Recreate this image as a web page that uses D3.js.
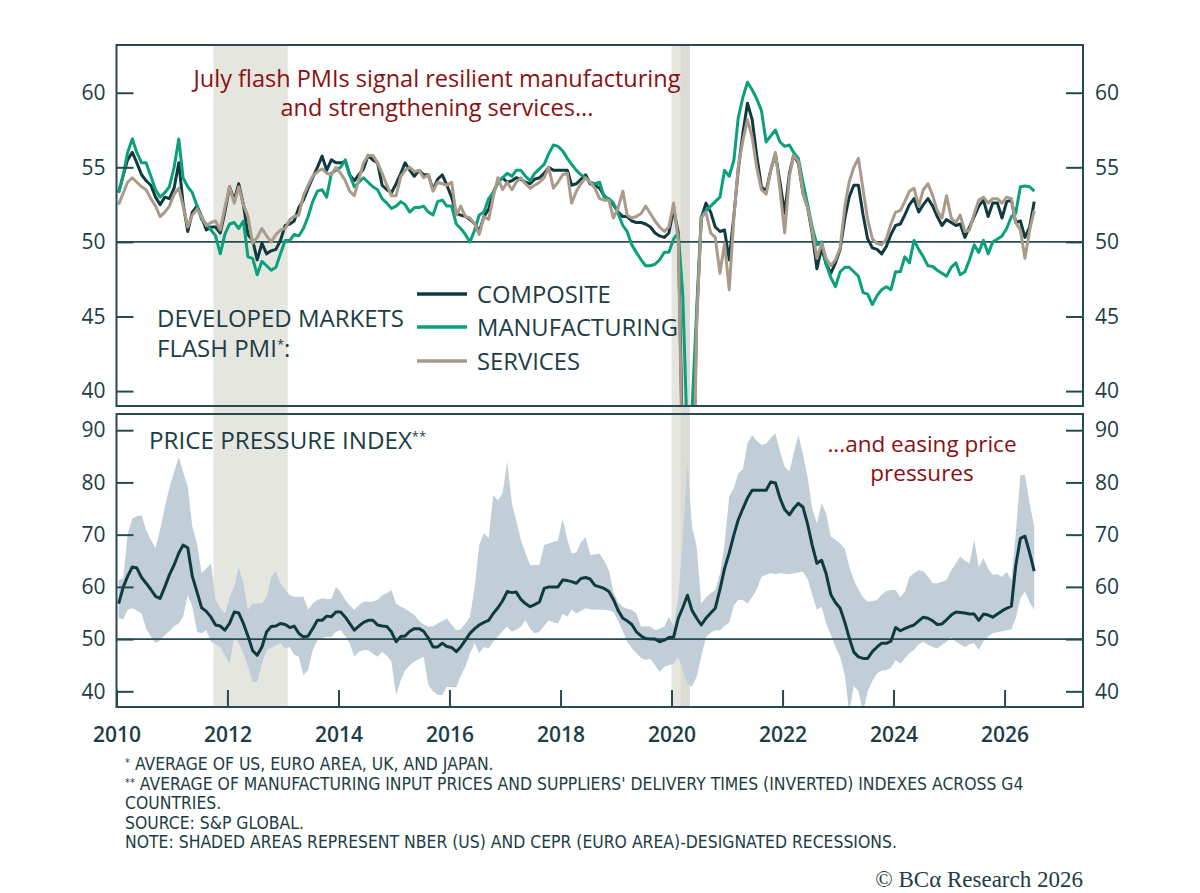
<!DOCTYPE html>
<html><head><meta charset="utf-8">
<script src="https://cdn.jsdelivr.net/npm/d3@7/dist/d3.min.js"></script>
<style>
body{margin:0;background:#fff;}
svg{display:block;}
</style></head><body>
<svg id="chart" width="1200" height="893"></svg>
<script>
// ---- DATA (monthly, Jan 2010 .. Jul 2026) ----
const firstMonth = [2010, 0];

const composite = [
53.3,54.5,55.5,56.0,55.3,54.5,54.1,53.8,53.0,52.5,53.0,52.9,
53.6,55.3,52.6,50.7,52.0,52.4,51.7,50.8,51.0,51.0,50.6,52.0,
53.7,52.8,53.9,52.5,50.5,50.1,48.8,49.9,49.2,49.4,49.5,50.1,
51.1,51.2,51.4,52.3,52.8,53.6,54.3,55.0,55.75,54.8,55.5,55.3,
55.3,55.4,54.5,54.1,54.5,54.9,55.8,55.5,55.3,53.8,53.5,53.3,
53.9,54.6,55.3,54.8,54.4,54.8,54.5,54.5,53.5,54.2,54.5,53.8,
53.0,51.9,51.8,51.7,51.5,51.2,50.7,51.7,52.2,53.3,54.0,54.3,
54.0,54.1,54.3,54.2,54.0,53.9,54.2,54.3,54.6,55.0,54.8,54.8,
54.8,54.8,53.8,53.9,54.2,54.5,53.9,53.8,53.6,53.1,52.8,52.5,
52.0,51.7,51.7,51.4,51.3,51.3,51.2,51.0,50.6,50.4,50.3,50.6,
52.2,50.6,35.2,20.4,30.8,45.0,51.6,52.6,52.0,51.0,50.7,50.8,
48.8,51.8,54.8,57.3,59.3,58.2,55.8,53.7,53.4,54.8,55.9,54.0,
51.9,54.6,55.8,55.3,53.3,52.3,50.6,48.2,49.6,48.5,47.9,48.6,
49.5,51.6,53.0,53.8,53.8,51.8,50.2,49.6,49.5,49.2,49.7,50.5,
51.1,51.2,51.8,52.5,52.9,52.0,52.5,52.9,52.4,51.7,51.1,51.5,
51.3,51.1,51.2,50.3,51.0,51.7,52.4,52.8,51.7,52.6,52.6,51.6,
52.7,52.8,51.3,51.4,50.3,51.0,52.7];

const manufacturing = [
53.3,54.5,56.0,56.9,56.0,55.3,55.3,54.4,53.5,53.0,53.3,53.7,
55.0,56.9,54.3,53.7,53.3,52.4,51.5,51.2,50.8,50.4,49.2,50.5,
51.2,51.3,50.9,51.4,49.0,48.9,47.8,48.7,48.4,48.1,48.3,49.2,
50.1,50.1,50.5,50.4,50.9,51.7,52.7,53.4,53.5,53.0,54.6,54.8,
55.0,55.5,54.5,53.7,54.0,54.3,54.0,53.7,53.5,52.9,52.6,52.25,
52.4,52.7,52.5,52.0,52.3,52.3,52.4,52.0,51.8,52.7,52.8,52.4,
52.4,51.2,50.9,50.5,50.0,50.8,51.8,52.0,52.9,53.3,54.0,54.3,
54.6,54.4,54.8,54.8,54.4,54.1,54.6,54.9,55.2,55.9,56.5,56.4,
56.1,55.6,55.2,54.8,54.5,54.3,54.0,53.9,54.0,53.0,52.9,52.6,
51.9,51.1,50.7,49.8,49.3,48.8,48.4,48.4,48.5,48.8,49.3,49.3,
50.2,50.6,46.5,36.5,38.7,45.5,51.7,52.1,52.4,52.7,53.0,54.8,
54.4,55.5,58.3,59.7,60.7,60.2,59.6,58.8,56.7,57.1,57.5,56.7,
56.4,56.5,56.0,55.6,54.0,52.5,51.0,49.8,50.0,48.5,47.6,47.0,
48.0,48.3,48.3,48.0,47.7,46.6,46.5,45.8,46.4,46.8,47.0,46.8,
48.0,48.0,49.0,48.6,50.1,49.5,49.0,48.4,48.35,48.1,47.9,47.7,
48.3,48.6,47.8,48.0,48.8,49.8,49.3,50.1,49.2,50.0,50.2,50.4,
50.9,51.7,51.9,53.7,53.75,53.7,53.4];

const services = [
52.5,53.3,54.0,54.3,54.0,53.7,53.5,52.9,52.4,51.7,52.0,52.4,
53.2,53.6,52.4,51.0,51.8,52.2,51.7,51.1,51.3,51.4,50.8,52.3,
53.7,52.6,53.7,52.5,51.7,49.9,50.3,50.9,50.4,50.0,50.5,50.8,
50.9,51.5,51.7,51.8,53.1,53.8,54.4,54.7,54.9,54.6,54.5,55.0,
54.6,54.1,53.4,53.1,54.2,55.3,55.8,55.8,55.3,54.6,53.8,53.1,
53.1,54.4,54.8,55.0,54.7,54.8,54.3,54.5,53.4,54.0,53.9,53.8,
54.0,51.8,52.4,51.7,51.6,51.2,50.5,51.7,51.5,53.0,54.3,53.5,
54.0,53.5,54.0,54.3,53.9,53.6,53.8,54.0,54.3,55.0,53.6,54.0,
54.5,54.6,52.6,53.4,53.9,54.3,54.0,53.6,52.9,52.8,52.8,51.6,
52.3,53.4,51.8,51.6,51.7,51.9,52.4,51.9,51.4,51.0,50.7,51.0,
52.6,50.1,33.5,16.5,27.5,44.5,51.6,52.0,50.6,50.3,47.9,49.9,
46.8,51.7,55.0,56.8,58.2,57.0,55.0,53.5,53.2,54.8,56.0,53.5,
50.6,54.4,55.8,55.4,53.3,52.3,50.8,48.9,49.9,48.9,48.4,48.8,
49.6,52.4,54.0,55.0,55.6,53.5,51.5,50.2,49.9,49.8,50.2,51.2,
52.0,52.1,52.7,53.4,53.6,52.4,53.5,53.9,53.1,52.1,51.6,53.1,
51.6,51.3,51.8,50.7,50.8,51.9,52.8,53.0,52.6,52.9,52.9,52.6,
53.0,52.9,51.3,50.8,48.9,50.8,52.1];

const pricePressure = [
56.8,60.0,62.0,63.8,63.6,61.8,60.7,59.5,58.2,57.8,60.0,62.3,
64.2,66.5,68.0,67.5,62.0,59.0,56.0,55.3,54.2,52.7,52.5,51.7,
53.0,55.2,55.0,53.0,50.6,47.8,46.9,48.5,51.4,52.4,52.5,53.0,
52.8,52.2,52.5,51.1,50.4,50.6,52.0,53.6,53.6,54.4,54.3,55.2,
55.2,54.2,53.0,51.7,52.5,53.2,53.6,53.6,52.7,52.5,52.4,51.4,
49.5,50.5,50.6,51.5,52.0,52.0,51.5,50.2,48.5,48.5,49.2,48.6,
48.4,47.6,48.5,49.8,51.1,52.0,52.7,53.2,53.6,54.9,56.0,57.3,
59.1,58.9,59.0,57.6,56.8,56.2,56.6,57.1,59.7,60.0,60.0,60.0,
61.3,61.2,61.0,60.7,61.6,61.8,61.5,60.3,60.0,59.7,59.1,57.6,
55.5,54.0,53.5,52.8,51.4,50.6,50.1,50.0,50.0,49.5,49.8,50.3,
50.4,54.0,56.0,58.4,55.5,54.0,52.7,54.0,55.0,55.9,59.5,63.5,
66.5,70.0,72.8,75.0,77.0,78.5,78.5,78.5,78.5,80.1,79.9,77.0,
74.8,73.8,75.0,76.0,75.3,72.0,68.0,64.5,65.1,62.5,58.5,57.0,
55.9,53.2,50.3,47.5,46.6,46.3,46.3,47.6,48.5,49.2,49.2,49.6,
52.2,51.6,52.0,52.4,52.7,53.5,54.2,54.0,53.5,52.8,52.9,53.7,
54.6,55.2,55.1,55.0,54.8,54.8,53.6,54.8,54.6,54.2,54.8,55.4,
55.9,56.3,64.0,69.3,69.7,66.5,63.0];

const rangeHigh = [
61.3,61.7,70.0,73.1,73.5,73.7,70.9,69.0,67.4,71.0,75.3,79.0,
82.0,84.9,82.0,79.2,71.5,68.3,62.6,63.5,64.5,57.5,56.0,54.9,
58.0,60.0,63.8,60.7,55.6,56.8,56.8,56.8,58.1,61.9,63.0,60.7,
59.5,58.4,58.1,58.1,58.1,55.6,56.8,57.5,57.8,57.7,57.7,60.0,
59.0,57.5,56.5,55.6,56.5,57.15,57.15,57.2,57.5,58.4,58.8,59.4,
56.8,56.2,55.8,55.2,54.6,53.5,52.8,52.4,52.4,53.0,53.4,54.0,
52.8,51.7,51.9,53.0,54.3,60.0,68.0,70.3,69.3,77.6,76.6,77.9,
84.0,76.0,72.8,69.0,66.5,64.2,64.2,64.2,68.0,68.3,68.6,68.9,
73.1,69.0,66.4,66.6,68.5,69.6,66.1,66.2,66.4,65.0,63.2,59.0,
57.0,56.2,55.8,55.6,54.9,52.4,52.4,52.4,51.7,52.0,52.4,54.3,
52.4,58.0,69.0,83.7,71.5,67.7,56.8,58.0,58.8,59.4,62.5,68.0,
77.3,79.0,81.7,82.5,87.5,89.1,88.0,87.2,87.4,88.5,89.4,86.0,
83.0,82.05,85.6,89.1,85.5,81.0,75.0,72.2,76.0,74.0,69.6,69.0,
68.3,67.3,64.0,61.3,59.5,58.0,57.15,57.3,57.5,58.5,59.2,59.4,
59.4,58.0,59.0,61.9,62.6,63.2,63.0,62.0,60.7,60.7,61.0,61.3,
63.2,64.5,65.8,65.0,64.5,69.0,63.85,65.5,63.5,62.3,62.4,61.9,
62.9,61.3,70.0,81.4,81.4,76.0,71.5];

const rangeLow = [
54.0,53.8,55.6,55.9,55.5,54.9,52.0,50.5,49.2,49.8,50.8,51.5,
52.5,53.0,54.3,58.4,56.2,51.4,51.1,51.7,49.5,49.0,48.5,46.9,
45.3,50.4,49.2,47.3,44.7,41.8,41.8,45.3,47.9,48.3,48.8,49.2,
48.2,48.5,47.0,46.6,43.1,44.1,47.9,49.8,50.2,50.4,50.4,51.4,
51.7,50.5,49.2,46.6,47.6,47.9,47.9,47.2,46.6,47.6,46.8,45.7,
39.3,42.1,44.0,45.0,45.7,46.2,46.6,41.2,40.0,39.3,39.3,40.9,
40.8,40.8,43.0,44.7,47.3,49.2,47.3,48.5,48.2,49.5,50.5,51.5,
52.4,51.4,51.8,52.4,53.6,52.0,51.1,51.4,52.5,53.6,53.2,53.0,
54.8,54.3,55.6,54.9,55.4,55.9,55.7,55.6,55.6,55.6,55.5,55.2,
53.5,51.5,49.5,48.3,47.3,46.4,46.0,46.2,45.0,43.7,44.7,45.0,
45.3,46.6,44.0,41.5,40.9,42.8,46.6,50.4,51.2,51.7,51.7,52.5,
53.2,56.5,57.5,57.5,56.8,58.0,59.5,61.9,62.3,62.6,62.4,62.6,
62.5,62.4,62.6,62.8,62.9,61.5,58.5,55.6,56.2,53.0,50.8,48.5,
46.6,43.0,36.0,41.0,40.0,36.0,40.0,42.0,43.4,44.0,44.1,44.5,
46.0,45.3,46.3,47.3,47.9,49.0,49.5,48.9,48.5,48.2,48.9,49.5,
50.4,49.5,49.0,48.5,49.0,49.2,47.9,49.6,50.5,51.1,51.3,51.5,
51.7,51.9,54.0,57.8,59.1,57.0,55.6];

const yTicksTop = [40, 45, 50, 55, 60];
const yTicksBottom = [40, 50, 60, 70, 80, 90];
const xTickYears = [2010, 2012, 2014, 2016, 2018, 2020, 2022, 2024, 2026];
const recessions = [
  ["2011-10-01", "2013-02-01"],
  ["2020-01-01", "2020-05-01"],
  ["2020-03-01", "2020-05-01"]
];
const seriesNames = ["COMPOSITE", "MANUFACTURING", "SERVICES"];
const footnotes = [
  "* AVERAGE OF US, EURO AREA, UK, AND JAPAN.",
  "** AVERAGE OF MANUFACTURING INPUT PRICES AND SUPPLIERS' DELIVERY TIMES (INVERTED) INDEXES ACROSS G4",
  "COUNTRIES.",
  "SOURCE: S&P GLOBAL.",
  "NOTE: SHADED AREAS REPRESENT NBER (US) AND CEPR (EURO AREA)-DESIGNATED RECESSIONS."
];

// ---- STYLE ----
const C_DARK = "#0f3a40", C_GREEN = "#0aa07c", C_TAN = "#a99a8a", C_BAND = "#c1ced8";
const C_TEXT = "#1c3d45", C_FRAME = "#274a51", C_RED = "#8b0f10";
const FONT = "'Open Sans', 'Noto Sans', sans-serif";

const L = 116.5, R = 1083;
const T1 = 45, B1 = 406, T2 = 414, B2 = 707;

const svg = d3.select("#chart");
const dates = composite.map((_, i) => new Date(firstMonth[0], firstMonth[1] + i, 15));

const x = d3.scaleTime().domain([new Date(2010, 0, 1), new Date(2027, 5, 1)]).range([L, R]);
const yTop = d3.scaleLinear().domain([39, 63.2]).range([B1, T1]);
const yBot = d3.scaleLinear().domain([37, 93.1]).range([B2, T2]);

const defs = svg.append("defs");
defs.append("clipPath").attr("id", "clipTop").append("rect")
  .attr("x", L).attr("y", T1).attr("width", R - L).attr("height", B1 - T1);
defs.append("clipPath").attr("id", "clipBot").append("rect")
  .attr("x", L).attr("y", T2).attr("width", R - L).attr("height", B2 - T2);

// recession shading
svg.append("g").selectAll("rect").data(recessions).join("rect")
  .attr("x", d => x(new Date(d[0])))
  .attr("width", d => x(new Date(d[1])) - x(new Date(d[0])))
  .attr("y", T1).attr("height", B2 - T1)
  .attr("fill", "#d5d5cb").attr("fill-opacity", 0.6);

// ---- TOP PANEL ----
const gTop = svg.append("g");
const gTopClip = gTop.append("g").attr("clip-path", "url(#clipTop)");

gTopClip.append("line").attr("x1", L).attr("x2", R)
  .attr("y1", yTop(50)).attr("y2", yTop(50))
  .attr("stroke", C_FRAME).attr("stroke-width", 1.6);

const lineTop = arr => d3.line().x((d, i) => x(dates[i])).y(d => yTop(d))(arr);
[[composite, C_DARK], [manufacturing, C_GREEN], [services, C_TAN]].forEach(([arr, col]) => {
  gTopClip.append("path").attr("d", lineTop(arr)).attr("fill", "none")
    .attr("stroke", col).attr("stroke-width", 3).attr("stroke-linejoin", "round");
});

// axes top
const axL1 = d3.axisLeft(yTop).tickValues(yTicksTop).tickSize(-17).tickPadding(11);
const axR1 = d3.axisRight(yTop).tickValues(yTicksTop).tickSize(-17).tickPadding(12);
gTop.append("g").attr("transform", `translate(${L},0)`).call(axL1);
gTop.append("g").attr("transform", `translate(${R},0)`).call(axR1);

gTop.append("rect").attr("x", L).attr("y", T1).attr("width", R - L).attr("height", B1 - T1)
  .attr("fill", "none").attr("stroke", C_FRAME).attr("stroke-width", 2);

// ---- BOTTOM PANEL ----
const gBot = svg.append("g");
const gBotClip = gBot.append("g").attr("clip-path", "url(#clipBot)");

gBotClip.append("path")
  .attr("d", d3.area().x((d, i) => x(dates[i])).y0((d, i) => yBot(rangeLow[i])).y1(d => yBot(d))(rangeHigh))
  .attr("fill", C_BAND);

gBotClip.append("line").attr("x1", L).attr("x2", R)
  .attr("y1", yBot(50)).attr("y2", yBot(50))
  .attr("stroke", C_FRAME).attr("stroke-width", 1.6);

gBotClip.append("path")
  .attr("d", d3.line().x((d, i) => x(dates[i])).y(d => yBot(d))(pricePressure))
  .attr("fill", "none").attr("stroke", C_DARK).attr("stroke-width", 3).attr("stroke-linejoin", "round");

const axL2 = d3.axisLeft(yBot).tickValues(yTicksBottom).tickSize(-17).tickPadding(11);
const axR2 = d3.axisRight(yBot).tickValues(yTicksBottom).tickSize(-17).tickPadding(12);
gBot.append("g").attr("transform", `translate(${L},0)`).call(axL2);
gBot.append("g").attr("transform", `translate(${R},0)`).call(axR2);
const axB = d3.axisBottom(x).tickValues(xTickYears.map(yy => new Date(yy, 0, 1)))
  .tickFormat(d3.timeFormat("%Y")).tickSize(-17).tickPadding(20);
gBot.append("g").attr("class", "xaxis").attr("transform", `translate(0,${B2})`).call(axB);

gBot.append("rect").attr("x", L).attr("y", T2).attr("width", R - L).attr("height", B2 - T2)
  .attr("fill", "none").attr("stroke", C_FRAME).attr("stroke-width", 2);

// axis styling
svg.selectAll(".domain").remove();
svg.selectAll(".tick line").attr("stroke", C_FRAME).attr("stroke-width", 2);
svg.selectAll(".tick text").attr("fill", C_TEXT).style("font-family", FONT)
  .style("font-size", "21px").style("font-weight", 500);
svg.selectAll(".xaxis .tick text").style("font-weight", 600);

// ---- TEXT ----
const txt = (xx, yy, s, o = {}) => svg.append("text").attr("x", xx).attr("y", yy)
  .attr("fill", o.fill || C_TEXT).attr("text-anchor", o.anchor || "start")
  .style("font-family", o.font || FONT).style("font-size", (o.size || 23) + "px")
  .style("font-weight", o.weight || 400).text(s);

txt(437, 87, "July flash PMIs signal resilient manufacturing", { fill: C_RED, anchor: "middle", size: 23.5 });
txt(437, 116, "and strengthening services...", { fill: C_RED, anchor: "middle", size: 23.5 });

txt(157, 327, "DEVELOPED MARKETS", { size: 24 });
const fp = txt(157, 357, "FLASH PMI", { size: 24 });
fp.append("tspan").attr("dy", -8).style("font-size", "13px").text("*");
fp.append("tspan").attr("dy", 8).text(":");

const legendY = [294, 327, 361];
const legendColors = [C_DARK, C_GREEN, C_TAN];
seriesNames.forEach((n, k) => {
  svg.append("line").attr("x1", 417).attr("x2", 467).attr("y1", legendY[k]).attr("y2", legendY[k])
    .attr("stroke", legendColors[k]).attr("stroke-width", 3.5);
  txt(477, legendY[k] + 8.5, n, { size: 23.8 });
});

const ppi = txt(149, 449, "PRICE PRESSURE INDEX", { size: 24.2 });
ppi.append("tspan").attr("dy", -8).style("font-size", "13px").text("**");

txt(922, 452, "...and easing price", { fill: C_RED, anchor: "middle", size: 22.5 });
txt(922, 481, "pressures", { fill: C_RED, anchor: "middle", size: 22.5 });

const FOOT = "'Liberation Sans Narrow', 'DejaVu Sans Condensed', 'Roboto', sans-serif";
const footY = [770, 790, 809, 829, 848];
footnotes.forEach((f, k) => {
  const t = svg.append("text").attr("x", 125).attr("y", footY[k]).attr("fill", C_TEXT)
    .style("font-family", FOOT).style("font-size", "17.4px");
  const m = f.match(/^(\*+)(.*)$/);
  if (m) {
    t.append("tspan").attr("dy", -4).style("font-size", "11px").text(m[1]);
    t.append("tspan").attr("dy", 4).text(m[2]);
  } else t.text(f);
});

txt(1083, 887, "© BCα Research 2026", { anchor: "end", size: 23, font: "'Liberation Serif', 'DejaVu Serif', serif", fill: "#1c3d45" });
</script>
</body></html>
